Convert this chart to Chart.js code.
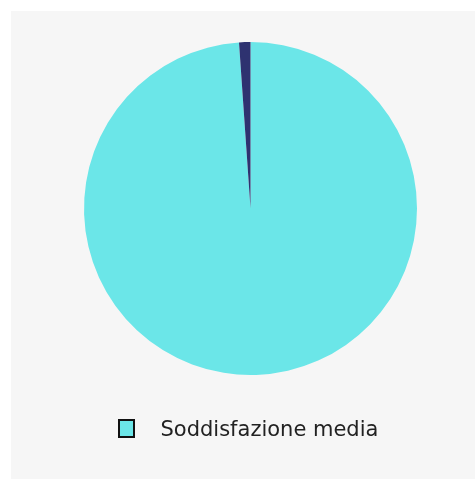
<!DOCTYPE html>
<html>
<head>
<meta charset="utf-8">
<script src="https://cdn.jsdelivr.net/npm/chart.js@4/dist/chart.umd.min.js"></script>
<style>
  body { margin: 0; background: #ffffff; }
  #panel { position: absolute; left: 11px; top: 11px; width: 464px; height: 468px; background: #f6f6f6; }
</style>
</head>
<body>
<div id="panel"><canvas id="myChart" width="464" height="468"></canvas></div>
<script>
const labels = ['Soddisfazione media', 'Resto'];
const values = [98.9, 1.1];
const sliceColors = ['#6be6e8', '#2e3270'];
const legendText = 'Soddisfazione media';

// legend box drawn as small image (cyan fill, dark border); bottom rows left empty
// so the box sits a little above the text centre
const boxImg = document.createElement('canvas');
boxImg.width = 17;
boxImg.height = 23;
const bctx = boxImg.getContext('2d');
bctx.fillStyle = sliceColors[0];
bctx.fillRect(0, 0, 17, 19);
bctx.strokeStyle = '#111111';
bctx.lineWidth = 2;
bctx.strokeRect(1, 1, 15, 17);

const fontSize = 21;

new Chart(document.getElementById('myChart'), {
    type: 'pie',
    data: {
        labels: labels,
        datasets: [{
            data: values,
            backgroundColor: sliceColors,
            borderWidth: 0
        }]
    },
    options: {
        responsive: false,
        animation: false,
        layout: { padding: { top: 31, left: 47, right: 32, bottom: 28 } },
        plugins: {
            tooltip: { enabled: false },
            legend: {
                position: 'bottom',
                align: 'start',
                labels: {
                    usePointStyle: true,
                    pointStyleWidth: 68 - fontSize,
                    padding: 45,
                    color: '#222222',
                    font: { family: 'DejaVu Sans', size: fontSize },
                    generateLabels: function () {
                        return [{
                            text: legendText,
                            pointStyle: boxImg,
                            fillStyle: sliceColors[0],
                            strokeStyle: '#111111',
                            lineWidth: 0,
                            hidden: false,
                            index: 0,
                            datasetIndex: 0,
                            fontColor: '#222222'
                        }];
                    }
                }
            }
        }
    }
});
</script>
</body>
</html>
